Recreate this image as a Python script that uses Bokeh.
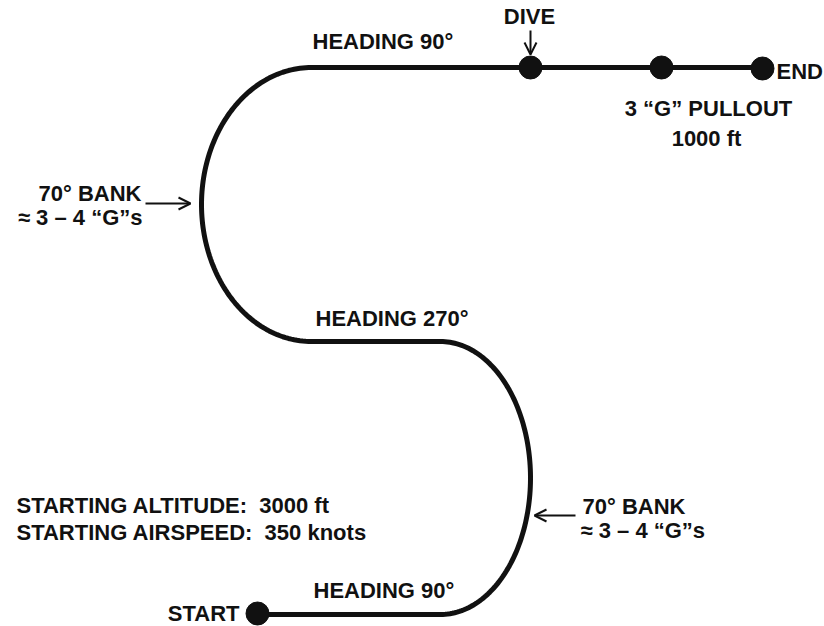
import numpy as np
from bokeh.plotting import figure
from bokeh.models import Range1d, Arrow, OpenHead
from bokeh.core.properties import value
from bokeh.embed import file_html
from bokeh.resources import INLINE

# ---- flight path data (diagram units, y grows downward) ----
leg_names = ["HEADING 90° (start)", "HEADING 270°", "HEADING 90° (end)"]
leg_y = [614, 341, 67]                 # position of the three straight legs
leg_x_start = [257, 440, 311]
leg_x_end = [440, 311, 762]
turn_center_x = [440, 311]             # lower (right-hand) turn, upper (left-hand) turn
turn_radius_x = [90, 110]
turn_direction = [1, -1]               # +1 bulges right, -1 bulges left

event_names = ["START", "DIVE", "PULLOUT", "END"]
event_x = [257, 530, 661, 762]
event_y = [613, 67, 67, 68]

# ---- annotations ----
NB = "\u00a0\u00a0"
label_left_text = ["HEADING 90°", "HEADING 270°", "HEADING 90°", "END",
                   "70° BANK", "≈ 3 – 4 “G”s",
                   "STARTING ALTITUDE:" + NB + "3000 ft",
                   "STARTING AIRSPEED:" + NB + "350 knots"]
label_left_x = [312, 315, 313, 776, 582, 580, 16, 16]
label_left_y = [41, 318, 590, 71, 506, 530, 505, 532]

label_right_text = ["70° BANK", "≈ 3 – 4 “G”s", "START"]
label_right_x = [141, 142, 239]
label_right_y = [193, 217, 613]

label_center_text = ["DIVE", "3 “G” PULLOUT", "1000 ft"]
label_center_x = [529, 708, 706]
label_center_y = [16, 108, 138]

arrow_x0 = [145, 575, 530]
arrow_y0 = [203, 515, 30]
arrow_x1 = [190, 534, 530]
arrow_y1 = [203, 515, 54]

# ---- build the path ----
def arc(cx, rx, y_from, y_to, direction, n=120):
    cy = (y_from + y_to) / 2.0
    ry = abs(y_from - y_to) / 2.0
    t = np.linspace(np.pi / 2, -np.pi / 2, n) if y_from > y_to else np.linspace(-np.pi / 2, np.pi / 2, n)
    xs = cx + direction * rx * np.cos(t)
    ys = cy + ry * np.sin(t)
    return xs, ys

px, py = [], []
for i in range(3):
    px += [leg_x_start[i], leg_x_end[i]]
    py += [leg_y[i], leg_y[i]]
    if i < 2:
        xs, ys = arc(turn_center_x[i], turn_radius_x[i], leg_y[i], leg_y[i + 1], turn_direction[i])
        px += list(xs)
        py += list(ys)

W, H = 824, 626
p = figure(width=W, height=H, x_range=Range1d(0, W), y_range=Range1d(H, 0),
           output_backend="svg", toolbar_location=None, min_border=0,
           x_axis_location=None, y_axis_location=None, outline_line_color=None)
p.grid.visible = False
p.background_fill_color = "white"
p.border_fill_color = "white"

ink = "#111111"
p.line(px, py, line_width=5, line_color=ink, line_join="round")
p.scatter(event_x, event_y, marker="circle", size=23, fill_color=ink, line_color=ink)

for x0, y0, x1, y1 in zip(arrow_x0, arrow_y0, arrow_x1, arrow_y1):
    p.add_layout(Arrow(end=OpenHead(size=12, line_width=2, line_color=ink),
                       x_start=x0, y_start=y0, x_end=x1, y_end=y1,
                       line_width=2, line_color=ink))

font = value("Liberation Sans")
common = dict(text_font=font, text_font_size="22px", text_font_style="bold",
              text_color=ink, text_baseline="alphabetic")
p.text(x=label_left_x, y=label_left_y, text=label_left_text, text_align="left", **common)
p.text(x=label_right_x, y=label_right_y, text=label_right_text, text_align="right", **common)
p.text(x=label_center_x, y=label_center_y, text=label_center_text, text_align="center", **common)

open("out.html", "w").write(file_html(p, INLINE))
